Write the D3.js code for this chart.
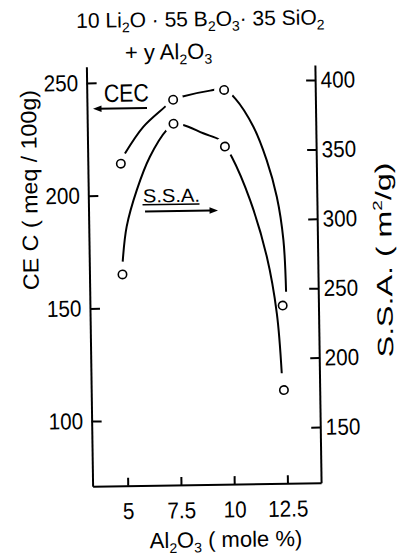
<!DOCTYPE html>
<html>
<head>
<meta charset="utf-8">
<script src="https://cdn.jsdelivr.net/npm/d3@7"></script>
<style>
body { margin: 0; background: #fff; }
svg { display: block; }
text { font-family: "Liberation Sans", Arial, sans-serif; fill: #000; }
.axis text { font-size: 23px; }
.axis path, .axis line { stroke: #000; stroke-width: 2; }
</style>
</head>
<body>
<svg id="chart" width="400" height="559"></svg>
<script>
// Al2O3 content (mole %) and the two measured series
var alumina = [4.9, 7.4, 9.8, 12.4];
var cecValues = [214, 242, 246, 150];   // meq/100g, left axis
var ssaValues = [262, 370, 353, 177];   // m2/g, right axis

// hand drawn trend lines
var cecCurveX = [5.10, 5.98, 7.02, 7.41, 7.80, 9.14, 9.81, 10.31, 11.15, 11.75, 12.20, 12.48, 12.57];
var cecCurveY = [218.5, 230.2, 239.0, 242.2, 243.3, 245.8, 246.3, 242.2, 229.5, 214.6, 198.3, 179.1, 156.1];
var ssaCurveX = [4.92, 5.13, 5.63, 6.27, 7.08, 7.42, 7.86, 8.79, 9.57, 9.80, 10.11, 10.94, 11.69, 12.12, 12.31];
var ssaCurveY = [271.2, 296.4, 322.6, 346.5, 365.7, 369.6, 369.0, 362.8, 357.8, 353.4, 345.6, 314.3, 273.2, 232.4, 189.1];

// ticks
var xTickValues = [5, 7.5, 10, 12.5];
var xTickLabels = ["5", "7.5", "10", "12.5"];
var cecTicks = [100, 150, 200, 250];
var ssaTicks = [150, 200, 250, 300, 350, 400];

var svg = d3.select("#chart");
// the scanned figure is tilted a little
var g = svg.append("g").attr("transform", "rotate(-0.85,207,276)");

var x = d3.scaleLinear().domain([3.35, 14.08]).range([89.5, 318]);
var yL = d3.scaleLinear().domain([71.1, 257.2]).range([484.5, 65]);
var yR = d3.scaleLinear().domain([109.8, 410.8]).range([484.5, 66.6]);

g.append("g").attr("class", "axis")
  .attr("transform", "translate(89.5,0)")
  .call(d3.axisLeft(yL).tickValues(cecTicks).tickSize(-10).tickSizeOuter(0).tickPadding(8.5));

g.append("g").attr("class", "axis")
  .attr("transform", "translate(318,0)")
  .call(d3.axisRight(yR).tickValues(ssaTicks).tickSize(-9).tickSizeOuter(0).tickPadding(5.5));

g.append("g").attr("class", "axis")
  .attr("transform", "translate(0,484.5)")
  .call(d3.axisBottom(x).tickValues(xTickValues).tickFormat(function(d, i){ return xTickLabels[i]; })
    .tickSize(-8).tickSizeOuter(0).tickPadding(17));

g.selectAll(".axis").attr("font-family", null).attr("font-size", null);
g.selectAll(".axis text").each(function(){
  var w = this.getComputedTextLength();
  d3.select(this).attr("textLength", w * 0.9).attr("lengthAdjust", "spacingAndGlyphs");
});

var drawSeries = function(cx, vals, curveX, curveY, yScale){
  var line = d3.line()
    .x(function(i){ return x(curveX[i]); })
    .y(function(i){ return yScale(curveY[i]); })
    .curve(d3.curveCatmullRom.alpha(0.5));
  g.append("path").datum(d3.range(curveX.length))
    .attr("d", line).attr("fill", "none").attr("stroke", "#000").attr("stroke-width", 2);
  // white gaps around the inner points
  g.selectAll(null).data(vals.slice(1, -1)).enter().append("circle")
    .attr("cx", function(d, i){ return x(cx[i + 1]); })
    .attr("cy", function(d){ return yScale(d); })
    .attr("r", 10).attr("fill", "#fff");
  g.selectAll(null).data(vals).enter().append("circle")
    .attr("cx", function(d, i){ return x(cx[i]); })
    .attr("cy", function(d){ return yScale(d); })
    .attr("r", 4.2).attr("fill", "#fff").attr("stroke", "#000").attr("stroke-width", 1.6);
};
drawSeries(alumina, cecValues, cecCurveX, cecCurveY, yL);
drawSeries(alumina, ssaValues, ssaCurveX, ssaCurveY, yR);

// labels with arrows
g.append("text").attr("x", 129).attr("y", 100.5).attr("text-anchor", "middle")
  .attr("font-size", 25).attr("textLength", 45).attr("lengthAdjust", "spacingAndGlyphs").text("CEC");
g.append("line").attr("x1", 149.5).attr("x2", 100).attr("y1", 107.2).attr("y2", 107.2)
  .attr("stroke", "#000").attr("stroke-width", 2);
g.append("path").attr("d", "M95.5,107.2L104,104L104,110.4Z").attr("fill", "#000");

g.append("text").attr("x", 172.6).attr("y", 201.5).attr("text-anchor", "middle")
  .attr("font-size", 19).attr("textLength", 57).attr("lengthAdjust", "spacingAndGlyphs").text("S.S.A.");
g.append("line").attr("x1", 143.6).attr("x2", 200.6).attr("y1", 203.8).attr("y2", 203.8)
  .attr("stroke", "#000").attr("stroke-width", 1.5);
g.append("line").attr("x1", 146).attr("x2", 212).attr("y1", 210.6).attr("y2", 210.6)
  .attr("stroke", "#000").attr("stroke-width", 2);
g.append("path").attr("d", "M219,210.6L210.5,207.4L210.5,213.8Z").attr("fill", "#000");

// title, two lines with subscripts
var addPieces = function(t, pieces){
  pieces.forEach(function(p){
    var s = t.append("tspan").text(p[0]);
    if (p[1] === "sub") s.attr("font-size", 14).attr("dy", 5);
    if (p[1] === "back") s.attr("dy", -5);
  });
};
var t1 = g.append("text").attr("x", 80).attr("y", 26.1).attr("font-size", 21);
addPieces(t1, [["10 Li"], ["2", "sub"], ["O \u00b7 55 B", "back"], ["2", "sub"], ["O", "back"], ["3", "sub"],
  ["\u00b7 35 SiO", "back"], ["2", "sub"]]);
var t2 = g.append("text").attr("x", 128.2).attr("y", 58.8).attr("font-size", 22);
addPieces(t2, [["+ y  Al"], ["2", "sub"], ["O", "back"], ["3", "sub"]]);

// axis titles
g.append("text").attr("transform", "translate(38.5,187.4) rotate(-90)").attr("text-anchor", "middle")
  .attr("font-size", 22).attr("textLength", 200).attr("lengthAdjust", "spacingAndGlyphs")
  .text("CE C ( meq / 100g)");
var tr = g.append("text").attr("transform", "translate(392,262.6) rotate(-90)").attr("text-anchor", "middle")
  .attr("font-size", 22).attr("textLength", 195).attr("lengthAdjust", "spacingAndGlyphs");
tr.append("tspan").text("S.S.A. ( m");
tr.append("tspan").attr("font-size", 13).attr("dy", -9).text("2");
tr.append("tspan").attr("dy", 9).text("/g)");
var tx = g.append("text").attr("x", 222).attr("y", 547.3).attr("text-anchor", "middle").attr("font-size", 22);
addPieces(tx, [["Al"], ["2", "sub"], ["O", "back"], ["3", "sub"], [" ( mole  %)", "back"]]);
</script>
</body>
</html>
